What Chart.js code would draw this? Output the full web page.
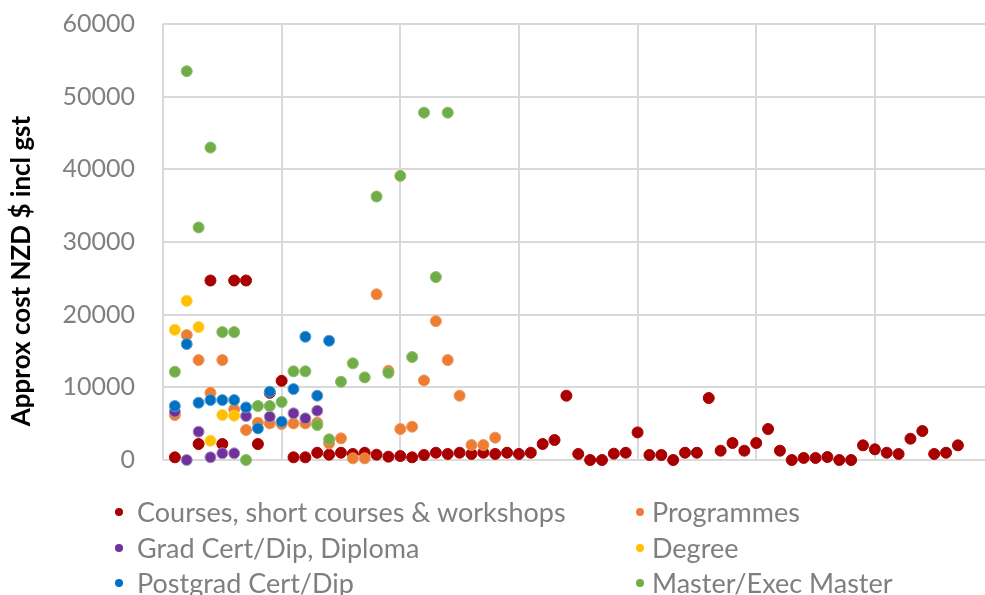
<!DOCTYPE html>
<html>
<head>
<meta charset="utf-8">
<script src="https://cdn.jsdelivr.net/npm/chart.js@4.4.1/dist/chart.umd.min.js"></script>
<style>
  html, body { margin: 0; padding: 0; overflow: hidden; background: #fff; width: 985px; height: 595px; }
  #wrap { position: absolute; left: 0; top: 0; width: 1000px; height: 470px; }
  #legend { position: absolute; left: 0; top: 0; width: 985px; height: 595px; pointer-events: none;
            font-family: Lato, sans-serif; font-size: 27px; color: #7f7f7f; }
  .item { position: absolute; height: 36px; line-height: 36px; white-space: nowrap; }
  .dot { position: absolute; width: 8px; height: 8px; border-radius: 50%; top: 14px; }
</style>
</head>
<body>
<div id="wrap"><canvas id="c"></canvas></div>
<div id="legend"></div>
<script>
// Course cost by offering (x = offering index, y = approx cost NZD incl GST)
const coursesIdx  = [1,3,4,5,6,7,8,9,10,11,12,13,14,15,16,17,18,19,20,21,22,23,24,25,26,27,28,29,30,31,32,33,34,35,36,37,38,39,40,41,42,43,44,45,46,47,48,49,50,51,52,53,54,55,56,57,58,59,60,61,62,63,64,65,66,67];
const coursesCost = [370,2200,24700,2200,24700,24700,2200,9250,10900,370,370,1000,730,1000,830,1000,730,460,550,370,690,1000,830,1000,830,1000,830,1000,830,1000,2200,2750,8850,830,0,0,870,1000,3800,690,690,0,1000,1000,8530,1280,2340,1280,2340,4260,1280,0,280,280,410,0,0,2020,1470,1000,830,2930,3990,830,1000,2020];

const programmesIdx  = [1,2,3,4,5,6,7,8,9,10,11,12,13,14,15,16,17,18,19,20,21,22,23,24,25,26,27,28];
const programmesCost = [6190,17190,13750,9250,13750,6970,4130,5130,5040,4950,5040,5040,5130,2290,2980,230,230,22800,12280,4260,4580,10950,19110,13750,8850,2060,2060,3070];

const gradIdx  = [1,2,3,4,5,6,7,9,11,12,13];
const gradCost = [6650,0,3900,370,920,920,6050,5960,6420,5730,6780];

const degreeIdx  = [1,2,3,4,5,6];
const degreeCost = [17920,21900,18290,2650,6190,6100];

const postgradIdx  = [1,2,3,4,5,6,7,8,9,10,11,12,13,14];
const postgradCost = [7430,15950,7880,8250,8250,8250,7240,4350,9400,5270,9760,16960,8850,16410];

const masterIdx  = [1,2,3,4,5,6,7,8,9,10,11,12,13,14,15,16,17,18,19,20,21,22,23,24];
const masterCost = [12140,53500,32000,43000,17600,17600,0,7430,7430,7980,12200,12200,4810,2840,10770,13300,11370,36260,12000,39100,14170,47800,25170,47800];

const seriesNames = ['Courses, short courses & workshops','Programmes','Grad Cert/Dip, Diploma','Degree','Postgrad Cert/Dip','Master/Exec Master'];
const yTicks = [0,10000,20000,30000,40000,50000,60000];
const yTitleText = 'Approx cost NZD $ incl gst';

const pts = (xs, ys) => xs.map((x, i) => ({ x: x, y: ys[i] }));

const styles = [
  { fill: '#a80000', edge: '#a80000' },
  { fill: '#ed7d31', edge: '#f0955a' },
  { fill: '#7030a0', edge: '#a59aae' },
  { fill: '#ffc000', edge: '#ffcf40' },
  { fill: '#0070c0', edge: '#5a9fd6' },
  { fill: '#70ad47', edge: '#8dbd6c' }
];
const seriesData = [
  pts(coursesIdx, coursesCost),
  pts(programmesIdx, programmesCost),
  pts(gradIdx, gradCost),
  pts(degreeIdx, degreeCost),
  pts(postgradIdx, postgradCost),
  pts(masterIdx, masterCost)
];

const datasets = seriesNames.map((name, i) => ({
  label: name,
  data: seriesData[i],
  backgroundColor: styles[i].fill,
  borderColor: styles[i].edge,
  borderWidth: 1,
  pointRadius: 5.5,
  pointHoverRadius: 5.5,
  order: seriesNames.length - i,   // later series on top
  clip: false
}));

// rotated axis title, centred a little below the plot middle
const yTitlePlugin = {
  id: 'yTitle',
  afterDraw(chart) {
    const ctx = chart.ctx;
    ctx.save();
    ctx.translate(22, 271);
    ctx.rotate(-Math.PI / 2);
    ctx.font = 'bold 26px Lato, sans-serif';
    ctx.fillStyle = '#000';
    ctx.textAlign = 'center';
    ctx.textBaseline = 'middle';
    ctx.fillText(yTitleText, 0, 0);
    ctx.restore();
  }
};

const chart = new Chart(document.getElementById('c'), {
  type: 'scatter',
  data: { datasets },
  options: {
    responsive: true,
    maintainAspectRatio: false,
    animation: false,
    events: [],
    layout: { padding: { left: 0, right: 2.5, top: 24, bottom: 10 } },
    plugins: { legend: { display: false }, tooltip: { enabled: false } },
    scales: {
      x: {
        type: 'linear', min: 0, max: 70,
        ticks: { display: false, stepSize: 10 },
        grid: { color: '#d9d9d9', lineWidth: 2, drawTicks: false },
        border: { display: false },
        afterFit: s => { s.height = 0; s.paddingLeft = 0; s.paddingRight = 0; }
      },
      y: {
        type: 'linear', min: 0, max: 60000,
        afterBuildTicks: s => { s.ticks = yTicks.map(v => ({ value: v })); },
        ticks: {
          color: '#808080', padding: 28,
          font: { family: 'Lato, sans-serif', size: 25 },
          callback: v => String(v)
        },
        grid: { color: '#d9d9d9', lineWidth: 2, drawTicks: false },
        border: { display: false },
        afterFit: s => { s.width = 163; s.paddingTop = 0; s.paddingBottom = 0; }
      }
    }
  },
  plugins: [yTitlePlugin]
});

// two-column legend under the plot
const legend = document.getElementById('legend');
const colX = [[119, 137], [640, 652]];
const rowY = [494, 530, 565];
chart.data.datasets.forEach((ds, i) => {
  const col = i % 2, row = Math.floor(i / 2);
  const item = document.createElement('div');
  item.className = 'item';
  item.style.left = (colX[col][0] - 4) + 'px';
  item.style.top = rowY[row] + 'px';
  const dot = document.createElement('span');
  dot.className = 'dot';
  dot.style.left = '0px';
  dot.style.background = ds.backgroundColor;
  const txt = document.createElement('span');
  txt.textContent = ds.label;
  txt.style.position = 'absolute';
  txt.style.left = (colX[col][1] - colX[col][0] + 4) + 'px';
  item.appendChild(dot);
  item.appendChild(txt);
  legend.appendChild(item);
});
</script>
</body>
</html>
